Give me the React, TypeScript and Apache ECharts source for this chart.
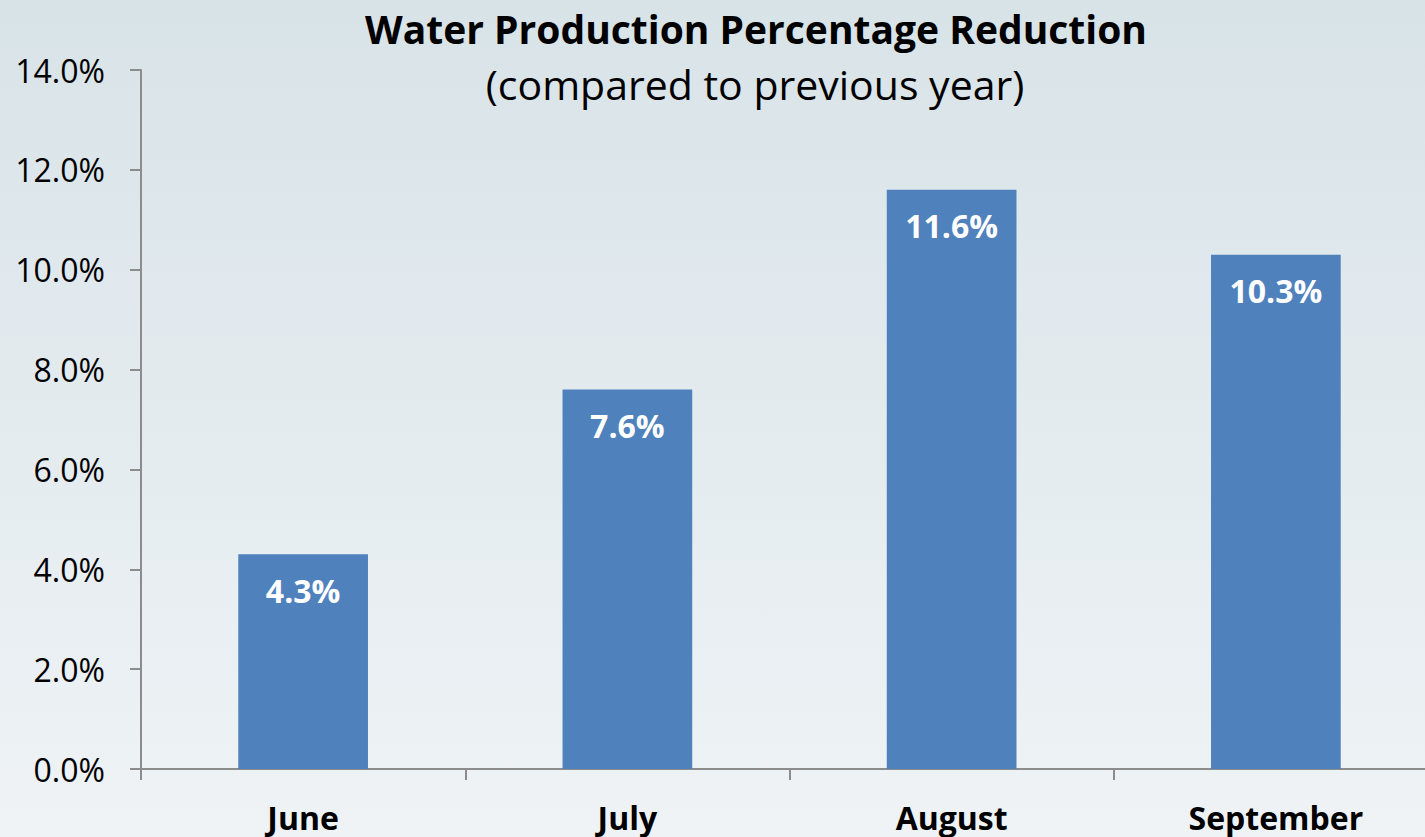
import React, { useEffect, useRef } from "react";
import * as echarts from "echarts";

const categories = ["June", "July", "August", "September"];
const reductionValues = [4.3, 7.6, 11.6, 10.3];
const titleText = "Water Production Percentage Reduction";
const subtitleText = "(compared to previous year)";

export default function App() {
  const ref = useRef<HTMLDivElement>(null);
  useEffect(() => {
    if (!ref.current) return;
    const chart = echarts.init(ref.current, null, { renderer: "svg" });
    const font = "Open Sans, Noto Sans, sans-serif";
    chart.setOption({
      animation: false,
      backgroundColor: {
        type: "linear", x: 0, y: 0, x2: 0, y2: 1,
        colorStops: [
          { offset: 0, color: "#d8e3e8" },
          { offset: 1, color: "#eff3f6" },
        ],
      },
      title: [
        {
          text: titleText,
          left: 751, top: 4, textAlign: "center",
          textStyle: { fontFamily: font, fontSize: 39, fontWeight: "bold", color: "#000" },
        },
        {
          text: subtitleText,
          left: 750, top: 58, textAlign: "center",
          textStyle: { fontFamily: font, fontSize: 41, fontWeight: "normal", color: "#000" },
        },
      ],
      grid: { left: 141, top: 70, width: 1297, height: 699, containLabel: false, outerBoundsMode: "none" },
      xAxis: {
        type: "category",
        data: categories,
        axisLine: { lineStyle: { color: "#8c8c8c", width: 2 } },
        axisTick: { show: true, length: 11, lineStyle: { color: "#8c8c8c", width: 2 } },
        axisLabel: { fontFamily: font, fontSize: 32, fontWeight: "bold", color: "#000", margin: 32 },
        splitLine: { show: false },
      },
      yAxis: {
        type: "value",
        min: 0, max: 14, interval: 2,
        axisLine: { show: true, lineStyle: { color: "#8c8c8c", width: 2 } },
        axisTick: { show: true, length: 11, lineStyle: { color: "#8c8c8c", width: 2 } },
        axisLabel: {
          fontFamily: font, fontSize: 32, color: "#000", margin: 36,
          formatter: (v: number) => v.toFixed(1) + "%",
        },
        splitLine: { show: false },
      },
      series: [
        {
          type: "bar",
          data: reductionValues,
          barWidth: "40%",
          itemStyle: { color: "#4f81bd" },
          label: {
            show: true,
            position: "insideTop",
            distance: 20,
            fontFamily: font, fontSize: 32, fontWeight: "bold", color: "#fff",
            formatter: (p: any) => p.value.toFixed(1) + "%",
          },
        },
      ],
    });
    return () => chart.dispose();
  }, []);
  return (
    <div style={{ position: "absolute", left: 0, top: 0, width: 1425, height: 837, overflow: "hidden" }}>
      <div ref={ref} style={{ width: 1440, height: 837 }} />
    </div>
  );
}
